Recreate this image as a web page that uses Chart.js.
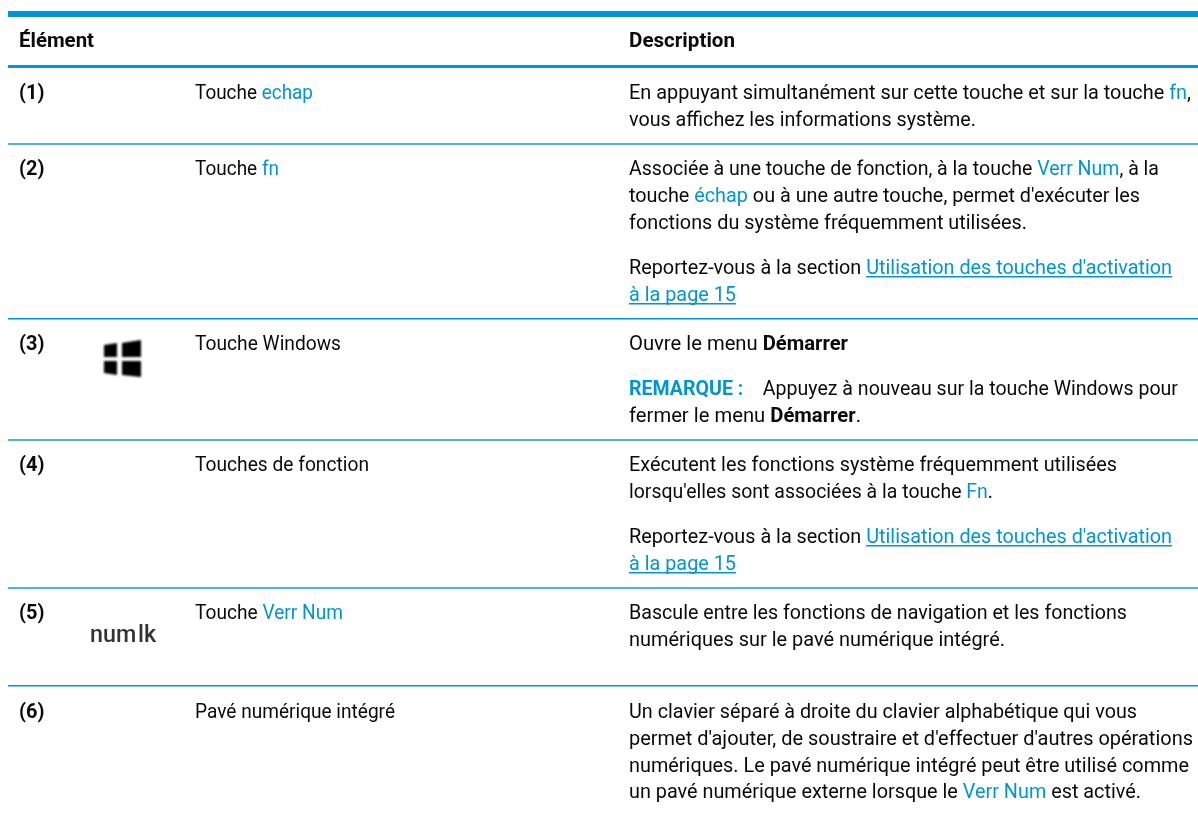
<!DOCTYPE html>
<html lang="fr">
<head>
<meta charset="utf-8">
<title>Éléments du clavier</title>
<script src="https://cdn.jsdelivr.net/npm/chart.js@4"></script>
<style>
  html, body { margin: 0; background: #fff; }
  canvas { display: block; }
</style>
</head>
<body>
<canvas id="table" width="1198" height="814"></canvas>
<script>
// Table content, [b:..] bold, [l:..] blue, [u:..] blue underlined, [r:..] bold blue
const headerCells = ["[b:Élément]", "[b:Description]"];
const rowNumbers = ["(1)", "(2)", "(3)", "(4)", "(5)", "(6)"];
const elementNames = [
  "Touche [l:echap]",
  "Touche [l:fn]",
  "Touche Windows",
  "Touches de fonction",
  "Touche [l:Verr Num]",
  "Pavé numérique intégré"
];
const descriptionLines = [
  "En appuyant simultanément sur cette touche et sur la touche [l:fn],",
  "vous affichez les informations système.",
  "Associée à une touche de fonction, à la touche [l:Verr Num], à la",
  "touche [l:échap] ou à une autre touche, permet d'exécuter les",
  "fonctions du système fréquemment utilisées.",
  "Reportez-vous à la section [u:Utilisation des touches d'activation]",
  "[u:à la page 15]",
  "Ouvre le menu [b:Démarrer]",
  "[r:REMARQUE :]    Appuyez à nouveau sur la touche Windows pour",
  "fermer le menu [b:Démarrer].",
  "Exécutent les fonctions système fréquemment utilisées",
  "lorsqu'elles sont associées à la touche [l:Fn].",
  "Reportez-vous à la section [u:Utilisation des touches d'activation]",
  "[u:à la page 15]",
  "Bascule entre les fonctions de navigation et les fonctions",
  "numériques sur le pavé numérique intégré.",
  "Un clavier séparé à droite du clavier alphabétique qui vous",
  "permet d'ajouter, de soustraire et d'effectuer d'autres opérations",
  "numériques. Le pavé numérique intégré peut être utilisé comme",
  "un pavé numérique externe lorsque le [l:Verr Num] est activé."
];

// Where things sit on the page scales
const ruleLevels = [14, 66.5, 144, 318.5, 440, 588, 686];
const ruleWidths = [6, 3, 2, 1.5, 2, 2, 1.5];
const ruleColors = ["#0096d6", "#0096d6", "#4db5e3", "#0096d6", "#4db5e3", "#4db5e3", "#0096d6"];
const columnLeft = [19, 195, 629];
const headerBaseline = 47;
const headerRightEdges = [94, 735];
const rowBaselines = [99, 175, 350, 471, 619, 718];
const elementRightEdges = [313, 279, 341, 369, 343, 395];
const descriptionBaselines = [99, 126, 175, 202, 229, 274, 301, 350, 395, 422, 471, 498, 543, 570, 619, 646, 718, 745, 772, 798];
const descriptionRightEdges = [1191, 976, 1159, 1140, 1027, 1172, 736, 848, 1178, 861, 1117, 993, 1172, 736, 1127, 1005, 1137, 1193, 1189, 1141];

const BLUE = "#0096d6";
const INK = "#0a0a0a";
const FONT_SIZE = 21;
const FONT_FAMILY = "Roboto";
const SQUEEZE = 0.95;

// every text line is one point of the dataset
const cellTexts = [];
const cellEdges = [];
const cellPoints = [];
function addCell(text, x, y, right) {
  cellTexts.push(text);
  cellEdges.push(right);
  cellPoints.push({ x: x, y: y });
}
addCell(headerCells[0], columnLeft[0], headerBaseline, headerRightEdges[0]);
addCell(headerCells[1], columnLeft[2], headerBaseline, headerRightEdges[1]);
rowNumbers.forEach((n, i) => addCell("[b:" + n + "]", columnLeft[0], rowBaselines[i], null));
elementNames.forEach((n, i) => addCell(n, columnLeft[1], rowBaselines[i], elementRightEdges[i]));
descriptionLines.forEach((l, i) => addCell(l, columnLeft[2], descriptionBaselines[i], descriptionRightEdges[i]));

function splitSegments(text) {
  return text.split(/(\[[blur]:[^\]]*\])/).filter(s => s).map(s => {
    let m = s.match(/^\[([blur]):([^\]]*)\]$/);
    return m ? { kind: m[1], text: m[2] } : { kind: "", text: s };
  });
}

function segmentFont(seg) {
  let bold = seg.kind === "b" || seg.kind === "r";
  return (bold ? "bold " : "") + FONT_SIZE + "px " + FONT_FAMILY;
}

function drawLine(ctx, text, x, y, rightPx) {
  let segments = splitSegments(text);
  ctx.save();
  // squeeze each line to the width it has in the table
  let natural = 0;
  segments.forEach(seg => {
    ctx.font = segmentFont(seg);
    natural += ctx.measureText(seg.text).width;
  });
  ctx.translate(x, y);
  ctx.scale(rightPx === null ? SQUEEZE : (rightPx - x) / natural, 1);
  ctx.filter = "blur(0.3px)";
  let cx = 0;
  segments.forEach(seg => {
    ctx.font = segmentFont(seg);
    ctx.fillStyle = seg.kind === "" || seg.kind === "b" ? INK : BLUE;
    ctx.fillText(seg.text, cx, 0);
    let w = ctx.measureText(seg.text).width;
    if (seg.kind === "u") ctx.fillRect(cx, 2, w, 1.5);
    cx += w;
  });
  ctx.restore();
}

function pane(ctx, xs, ys, pts) {
  ctx.beginPath();
  pts.forEach((p, i) => i ? ctx.lineTo(xs(p[0]), ys(p[1])) : ctx.moveTo(xs(p[0]), ys(p[1])));
  ctx.closePath();
  ctx.fill();
}

function drawIcons(ctx, xs, ys) {
  // Windows key
  ctx.save();
  ctx.filter = "blur(0.9px)";
  ctx.fillStyle = "#000";
  pane(ctx, xs, ys, [[104, 345], [117, 343], [117, 357], [104, 357]]);
  pane(ctx, xs, ys, [[122, 343], [141, 340], [141, 357], [122, 357]]);
  pane(ctx, xs, ys, [[104, 361], [117, 361], [117, 375], [104, 373]]);
  pane(ctx, xs, ys, [[122, 361], [141, 361], [141, 377], [122, 375]]);
  // num lk key
  ctx.filter = "blur(0.6px)";
  ctx.fillStyle = "#333";
  ctx.font = "500 24px Roboto";
  ctx.wordSpacing = "-4px";
  ctx.translate(xs(90), ys(642));
  ctx.scale(0.97, 1);
  ctx.fillText("num lk", 0, 0);
  ctx.restore();
}

const cellTextPlugin = {
  id: "cellText",
  afterDatasetsDraw(chart) {
    let ctx = chart.ctx;
    let xs = v => chart.scales.x.getPixelForValue(v);
    let ys = v => chart.scales.y.getPixelForValue(v);
    chart.getDatasetMeta(0).data.forEach((pt, i) => {
      drawLine(ctx, cellTexts[i], pt.x, pt.y, cellEdges[i] === null ? null : xs(cellEdges[i]));
    });
    drawIcons(ctx, xs, ys);
  }
};

new Chart(document.getElementById("table"), {
  type: "scatter",
  data: {
    datasets: [{ data: cellPoints, pointRadius: 0, showLine: false }]
  },
  options: {
    responsive: false,
    animation: false,
    layout: { padding: { left: 8, right: 0, top: 0, bottom: 0 } },
    plugins: { legend: { display: false }, tooltip: { enabled: false } },
    scales: {
      x: { type: "linear", min: 8, max: 1198, display: false },
      y: {
        type: "linear",
        min: 0,
        max: 814,
        reverse: true,
        afterBuildTicks: scale => { scale.ticks = ruleLevels.map(v => ({ value: v })); },
        ticks: { display: false },
        border: { display: false },
        grid: {
          color: ctx => ruleColors[ctx.index],
          drawTicks: false,
          lineWidth: ctx => ruleWidths[ctx.index]
        }
      }
    }
  },
  plugins: [cellTextPlugin]
});
</script>
</body>
</html>
